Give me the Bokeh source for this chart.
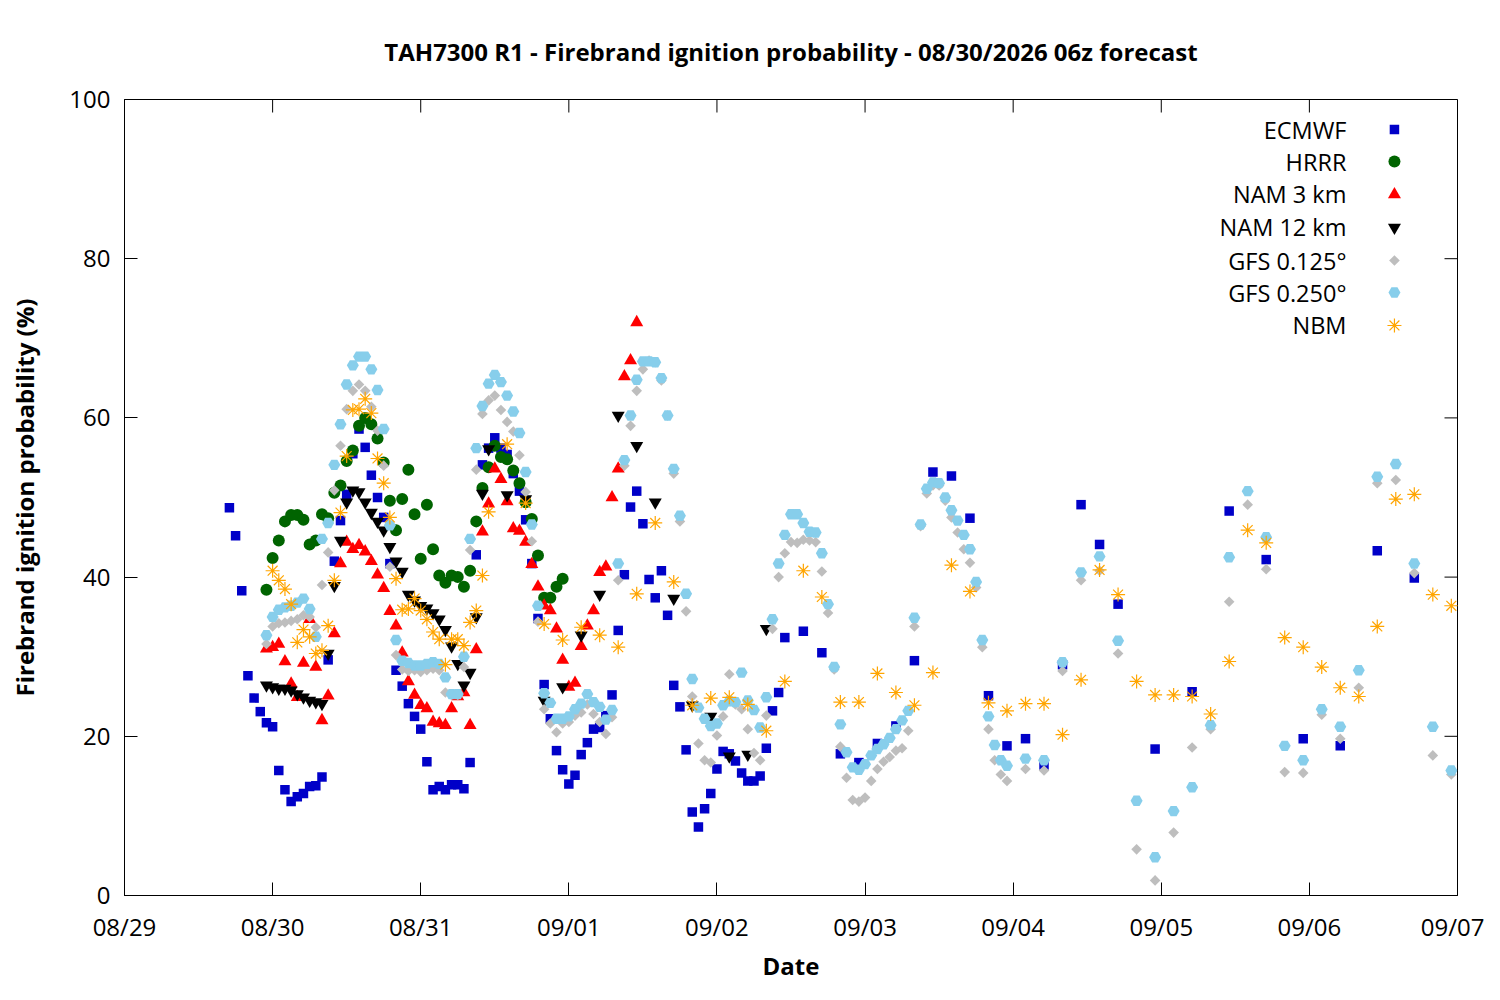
from bokeh.plotting import figure
from bokeh.models import Range1d, FixedTicker, Label, Title
from bokeh.embed import file_html
from bokeh.resources import INLINE
import numpy as np

# ---------------- data (valid time in hours since 08/29 00:00) ----------------
day_ticks = [0, 1, 2, 3, 4, 5, 6, 7, 8, 9]
day_labels = ["08/29", "08/30", "08/31", "09/01", "09/02", "09/03",
              "09/04", "09/05", "09/06", "09/07"]
y_ticks = [0, 20, 40, 60, 80, 100]

ecmwf_hours = list(range(17, 108)) + list(range(110, 162, 3)) + list(range(167, 210, 6))
ecmwf_vals = [48.7, 45.2, 38.3, 27.6, 24.8, 23.1, 21.7, 21.2, 15.7, 13.3, 11.8, 12.4,
              12.8, 13.7, 13.8, 14.9, 29.6, 42.0, 47.1, 50.4, 55.5, 58.6, 56.3, 52.8,
              50.0, 47.5, 41.7, 28.3, 26.3, 24.1, 22.5, 20.9, 16.8, 13.3, 13.7, 13.3,
              13.9, 13.9, 13.4, 16.7, 42.8, 54.1, 56.2, 57.5, 56.2, 55.4, 53.0, 50.8,
              47.2, 41.7, 34.8, 26.5, 22.2, 18.2, 15.8, 14.0, 15.1, 17.7, 19.2, 20.9,
              21.1, 22.6, 25.2, 33.3, 40.3, 48.8, 50.8, 46.7, 39.7, 37.4, 40.8, 35.2,
              26.4, 23.7, 18.3, 10.5, 8.6, 10.9, 12.8, 15.9, 18.1, 17.8, 16.9, 15.4,
              14.4, 14.4, 15.0, 18.5, 23.2, 25.5, 32.4,
              33.2, 30.5, 17.8, 16.7, 19.1, 21.3, 29.5, 53.2, 52.7, 47.4, 25.1, 18.8,
              19.7, 16.4, 29.0, 49.1, 44.1, 36.6,
              18.4, 25.6, 48.3, 42.2, 19.7, 18.8, 43.3, 39.9]

hrrr_hours = list(range(23, 72))
hrrr_vals = [38.4, 42.4, 44.6, 47.0, 47.8, 47.8, 47.2, 44.1, 44.6, 47.9, 47.4, 50.6,
             51.5, 54.6, 55.9, 59.0, 60.0, 59.2, 57.4, 54.4, 49.6, 45.9, 49.8, 53.5,
             47.9, 42.3, 49.1, 43.5, 40.2, 39.3, 40.2, 40.0, 38.8, 40.8, 47.0, 51.2,
             53.8, 56.5, 55.1, 54.8, 53.4, 51.8, 49.4, 47.3, 42.7, 37.4, 37.4, 38.8,
             39.8]

nam3_hours = list(range(23, 84))
nam3_vals = [31.0, 31.2, 31.6, 29.4, 26.6, 24.9, 29.2, 34.7, 28.7, 22.0, 25.1, 32.9,
             41.7, 44.4, 43.5, 44.0, 43.2, 42.0, 40.3, 38.6, 35.7, 33.9, 30.5, 26.9,
             25.2, 23.9, 23.5, 21.8, 21.6, 21.4, 23.5, 25.0, 25.5, 21.4, 30.9, 45.7,
             49.2, 53.6, 52.3, 49.5, 46.1, 45.8, 44.4, 41.6, 38.8, 36.4, 35.8, 33.5,
             29.6, 26.2, 26.7, 31.3, 33.9, 35.8, 40.6, 41.3, 50.0, 53.6, 65.2, 67.2,
             72.0]

nam12_hours = list(range(23, 60)) + list(range(62, 105, 3))
nam12_vals = [26.4, 26.2, 26.0, 26.0, 25.8, 25.3, 24.9, 24.5, 24.3, 24.1, 30.4, 38.9,
              44.6, 49.4, 50.9, 50.7, 49.4, 48.1, 47.0, 45.9, 43.8, 42.0, 40.7, 37.8,
              37.1, 36.4, 36.1, 35.5, 34.7, 33.4, 31.3, 29.1, 26.4, 28.0, 35.0, 50.5,
              56.1,
              50.3, 49.8, 24.5, 26.2, 32.7, 37.8, 60.3, 56.5, 49.4, 37.3, 23.9, 22.5,
              17.5, 17.7, 33.5]

gfs125_hours = list(range(23, 144)) + list(range(146, 216, 3))
gfs125_vals = [31.6, 33.8, 34.2, 34.3, 34.5, 34.7, 35.2, 35.0, 33.7, 39.0, 43.1, 50.9,
               56.5, 61.1, 63.4, 64.2, 63.4, 61.4, 58.4, 54.0, 41.3, 30.2, 28.4, 28.2,
               28.3, 28.1, 28.3, 28.5, 28.3, 25.5, 25.2, 25.2, 28.7, 43.4, 53.5, 60.5,
               62.2, 62.8, 61.0, 59.5, 58.3, 55.3, 50.7, 44.5, 34.4, 23.4, 21.6, 20.5,
               21.6, 21.8, 22.6, 23.0, 24.0, 22.8, 21.8, 20.3, 22.4, 39.6, 54.0, 59.0,
               63.4, 66.1, 67.2, 67.0, 64.7, 60.3, 53.0, 47.0, 35.7, 25.0, 19.1, 17.0,
               16.7, 20.1, 22.5, 27.8, 24.0, 23.4, 20.9, 17.9, 17.0, 22.6, 33.5, 40.0,
               43.0, 44.4, 44.3, 44.7, 44.6, 44.4, 40.7, 35.5, 28.4, 18.7, 14.8, 12.0,
               11.8, 12.3, 14.4, 15.9, 16.8, 17.4, 18.2, 18.5, 20.7, 33.8, 46.4, 50.5,
               51.5, 51.5, 49.6, 47.5, 45.6, 43.5, 41.8, 38.7, 31.2, 20.9, 17.0, 15.2,
               14.4,
               15.9, 15.7, 28.2, 39.6, 40.8, 30.4, 5.8, 1.9, 7.9, 18.6, 20.9, 36.9,
               49.1, 41.0, 15.5, 15.4, 22.7, 19.7, 26.1, 51.8, 52.2, 40.5, 17.6, 15.2]

gfs250_hours = list(range(23, 144)) + list(range(146, 216, 3))
gfs250_vals = [32.7, 35.0, 35.9, 36.2, 36.4, 36.8, 37.3, 36.0, 32.5, 44.8, 46.8, 54.1,
               59.2, 64.2, 66.6, 67.7, 67.7, 66.1, 63.5, 58.6, 46.5, 32.1, 29.5, 29.2,
               28.9, 28.9, 29.1, 29.3, 29.1, 27.4, 25.3, 25.3, 30.0, 44.8, 56.2, 61.5,
               64.3, 65.4, 64.5, 62.8, 60.8, 58.1, 53.2, 46.6, 36.4, 25.4, 24.2, 22.2,
               22.2, 22.5, 23.4, 24.1, 25.3, 24.3, 23.7, 22.1, 23.3, 41.7, 54.7, 60.3,
               64.8, 67.1, 67.1, 67.0, 65.0, 60.3, 53.6, 47.7, 37.9, 27.2, 23.6, 22.2,
               21.3, 21.6, 23.9, 24.4, 24.3, 28.0, 24.5, 23.3, 21.1, 24.9, 34.7, 41.7,
               45.3, 47.9, 47.9, 46.8, 45.7, 45.6, 43.0, 36.6, 28.7, 21.5, 18.0, 16.1,
               15.8, 16.5, 17.6, 18.4, 19.0, 19.8, 20.9, 22.0, 23.2, 34.9, 46.6, 51.1,
               51.9, 51.8, 50.0, 48.4, 47.1, 45.3, 43.5, 39.4, 32.1, 22.5, 18.9, 17.0,
               16.3,
               17.2, 17.0, 29.3, 40.6, 42.6, 32.0, 11.9, 4.8, 10.6, 13.6, 21.4, 42.5,
               50.8, 45.0, 18.8, 17.0, 23.4, 21.2, 28.3, 52.6, 54.2, 41.7, 21.2, 15.7]

nbm_hours = list(range(24, 60)) + list(range(62, 216, 3))
nbm_vals = [40.8, 39.6, 38.5, 36.6, 31.8, 33.4, 32.5, 30.4, 30.8, 33.9, 39.6, 48.1,
            55.2, 61.0, 61.1, 62.4, 60.6, 54.9, 51.8, 47.5, 39.8, 35.9, 36.0, 37.3,
            35.8, 34.7, 33.1, 32.2, 29.0, 32.2, 32.2, 31.4, 34.3, 35.8, 40.2, 48.2,
            56.7, 49.3, 34.1, 32.1, 33.7, 32.7, 31.2, 37.9, 46.8, 39.4, 23.9, 24.8,
            24.9, 24.0, 20.7, 26.9, 40.8, 37.5, 24.3, 24.3, 27.9, 25.5, 23.9, 28.0,
            41.5, 38.2, 24.2, 23.2, 24.1, 24.1, 20.2, 27.1, 40.9, 37.8, 26.9, 25.2,
            25.2, 25.0, 22.8, 29.4, 45.9, 44.3, 32.4, 31.2, 28.7, 26.1, 25.0, 33.8,
            49.8, 50.4, 37.8, 36.4]

series_names = ["ECMWF", "HRRR", "NAM 3 km", "NAM 12 km", "GFS 0.125\u00b0",
                "GFS 0.250\u00b0", "NBM"]

# ---------------- figure ----------------
FONT = "Open Sans"
W, H = 1484, 984
LEFT, RIGHT, TOP, BOTTOM = 124, 27, 99, 89
FRAME_W = W - LEFT - RIGHT
FRAME_H = H - TOP - BOTTOM
TICK = 13

p = figure(width=W, height=H, output_backend="svg", toolbar_location=None,
           x_range=Range1d(0, 9), y_range=Range1d(0, 100),
           min_border_left=LEFT, min_border_right=RIGHT, min_border_top=TOP,
           min_border_bottom=BOTTOM)
p.xgrid.visible = False
p.ygrid.visible = False
p.outline_line_color = "black"
p.outline_line_width = 1
p.background_fill_color = "white"
p.border_fill_color = "white"

p.title = Title(text="TAH7300 R1 - Firebrand ignition probability - 08/30/2026 06z forecast",
                align="center", text_font=FONT, text_font_size="24px",
                text_font_style="bold", text_color="black", standoff=64)

xa = p.xaxis[0]
xa.ticker = FixedTicker(ticks=day_ticks)
xa.major_label_overrides = {t: l for t, l in zip(day_ticks, day_labels)}
xa.axis_label = "Date"
ya = p.yaxis[0]
ya.ticker = FixedTicker(ticks=y_ticks)
ya.axis_label = "Firebrand ignition probability (%)"
for ax in (xa, ya):
    ax.major_tick_in = TICK
    ax.major_tick_out = 0
    ax.minor_tick_line_color = None
    ax.axis_line_color = "black"
    ax.major_tick_line_color = "black"
    ax.major_label_text_font = FONT
    ax.major_label_text_font_size = "24px"
    ax.major_label_text_color = "black"
    ax.axis_label_text_font = FONT
    ax.axis_label_text_font_size = "24px"
    ax.axis_label_text_font_style = "bold"
    ax.axis_label_text_color = "black"
xa.major_label_standoff = 14
xa.axis_label_standoff = 3
ya.major_label_standoff = 14
ya.axis_label_standoff = 25

# inward ticks on the top and right edges (mirroring the bottom/left ticks)
p.extra_x_ranges = {"lx": Range1d(0, 1)}
p.extra_y_ranges = {"ly": Range1d(0, 1)}
tx = [t / 9.0 for t in day_ticks]
ty = [t / 100.0 for t in y_ticks]
p.segment(x0=tx, y0=[1.0] * len(tx), x1=tx, y1=[1.0 - TICK / FRAME_H] * len(tx),
          x_range_name="lx", y_range_name="ly", line_color="black", line_width=1)
p.segment(x0=[1.0] * len(ty), y0=ty, x1=[1.0 - TICK / FRAME_W] * len(ty), y1=ty,
          x_range_name="lx", y_range_name="ly", line_color="black", line_width=1)

def days(hours):
    return [h / 24.0 for h in hours]

styles = [
    dict(marker="square", size=9.5, fill_color="#0000C8", line_color=None),
    dict(marker="circle", size=12, fill_color="#006400", line_color=None),
    dict(marker="triangle", size=13, fill_color="#FF0000", line_color=None),
    dict(marker="inverted_triangle", size=13, fill_color="black", line_color=None),
    dict(marker="square", size=7.5, angle=np.pi / 4, fill_color="#BEBEBE", line_color=None),
    dict(marker="hex", size=12, fill_color="#87CEEB", line_color=None),
    dict(marker="asterisk", size=14, line_color="#FFA500", line_width=1.2),
]
data = [(ecmwf_hours, ecmwf_vals), (hrrr_hours, hrrr_vals), (nam3_hours, nam3_vals),
        (nam12_hours, nam12_vals), (gfs125_hours, gfs125_vals),
        (gfs250_hours, gfs250_vals), (nbm_hours, nbm_vals)]

for (hrs, vals), st in zip(data, styles):
    p.scatter(x=days(hrs), y=vals, **st)

# ---------------- legend (label left of symbol, as in the reference) ----------------
leg_rows = [0.9623, 0.9221, 0.8807, 0.8392, 0.7977, 0.7575, 0.7161]
for name, yy, st in zip(series_names, leg_rows, styles):
    p.scatter(x=[0.9527], y=[yy], x_range_name="lx", y_range_name="ly", **st)
    p.add_layout(Label(x=0.9167, y=yy, x_range_name="lx", y_range_name="ly",
                       text=name, text_align="right", text_baseline="middle",
                       text_font=FONT, text_font_size="23.5px", text_color="black"))

open("out.html", "w").write(file_html(p, INLINE))
